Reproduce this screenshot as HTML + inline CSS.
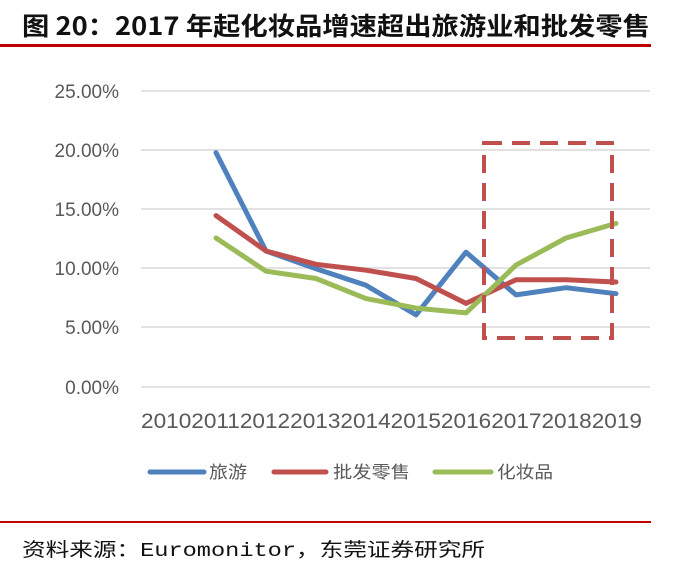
<!DOCTYPE html>
<html><head><meta charset="utf-8"><style>
body{margin:0;background:#fff;width:686px;height:571px;overflow:hidden;font-family:"Liberation Sans","Noto Sans CJK SC",sans-serif}
</style></head><body>
<svg width="686" height="571" xmlns="http://www.w3.org/2000/svg" style="position:absolute;left:0;top:0">
<text x="22" y="35" font-size="25" font-weight="bold" font-family="'Noto Sans CJK SC',sans-serif" fill="#111" textLength="628" lengthAdjust="spacingAndGlyphs">图 20：2017 年起化妆品增速超出旅游业和批发零售</text>
<rect x="0" y="44" width="651" height="3" fill="#c00000"/>
<g stroke="#d9d9d9" stroke-width="1.5">
<line x1="141" y1="91" x2="650" y2="91"/><line x1="141" y1="150" x2="650" y2="150"/><line x1="141" y1="209" x2="650" y2="209"/><line x1="141" y1="268" x2="650" y2="268"/><line x1="141" y1="327" x2="650" y2="327"/><line x1="141" y1="387" x2="650" y2="387"/>
</g>
<g font-size="19" fill="#595959" text-anchor="end" font-family="'Liberation Sans',sans-serif">
<text x="119" y="98">25.00%</text><text x="119" y="157">20.00%</text><text x="119" y="216">15.00%</text><text x="119" y="275">10.00%</text><text x="119" y="334">5.00%</text><text x="119" y="394">0.00%</text>
</g>
<text x="141" y="428" font-size="21" fill="#595959" textLength="501" lengthAdjust="spacingAndGlyphs">2010201120122013201420152016201720182019</text>
<g fill="none" stroke-width="5" stroke-linejoin="round" stroke-linecap="round">
<polyline stroke="#4f81bd" points="216,152.6 266,251 316,268.8 366,285.3 416,314.9 466,252.2 516,294.9 566,287.7 616,293.7"/>
<polyline stroke="#c0504d" points="216,215.6 266,251 316,264.3 366,270.2 416,278.5 466,303.4 516,279.7 566,279.7 616,282"/>
<polyline stroke="#9bbb59" points="216,238 266,271.2 316,278.5 366,298.6 416,308.1 466,312.9 516,265.1 566,238 616,223.4"/>
</g>
<rect x="484" y="143" width="128" height="195" fill="none" stroke="#c0504d" stroke-width="4" stroke-dasharray="18,10"/>
<g stroke-width="5" stroke-linecap="round"><line x1="150" y1="472" x2="204" y2="472" stroke="#4f81bd"/><line x1="274" y1="472" x2="326" y2="472" stroke="#c0504d"/><line x1="435" y1="472" x2="491" y2="472" stroke="#9bbb59"/></g>
<g font-size="17" fill="#595959" font-family="'Noto Sans CJK SC',sans-serif"><text x="209" y="478" textLength="38" lengthAdjust="spacingAndGlyphs">旅游</text><text x="333" y="478" textLength="77" lengthAdjust="spacingAndGlyphs">批发零售</text><text x="497" y="478" textLength="56" lengthAdjust="spacingAndGlyphs">化妆品</text></g>
<rect x="0" y="521" width="651" height="2" fill="#c00000"/>
<text x="22" y="556" font-size="19" fill="#111" font-family="'Noto Sans CJK SC',sans-serif" textLength="463" lengthAdjust="spacingAndGlyphs">资料来源：<tspan font-family="'Liberation Mono',monospace">Euromonitor</tspan>，东莞证券研究所</text>
</svg>
</body></html>
